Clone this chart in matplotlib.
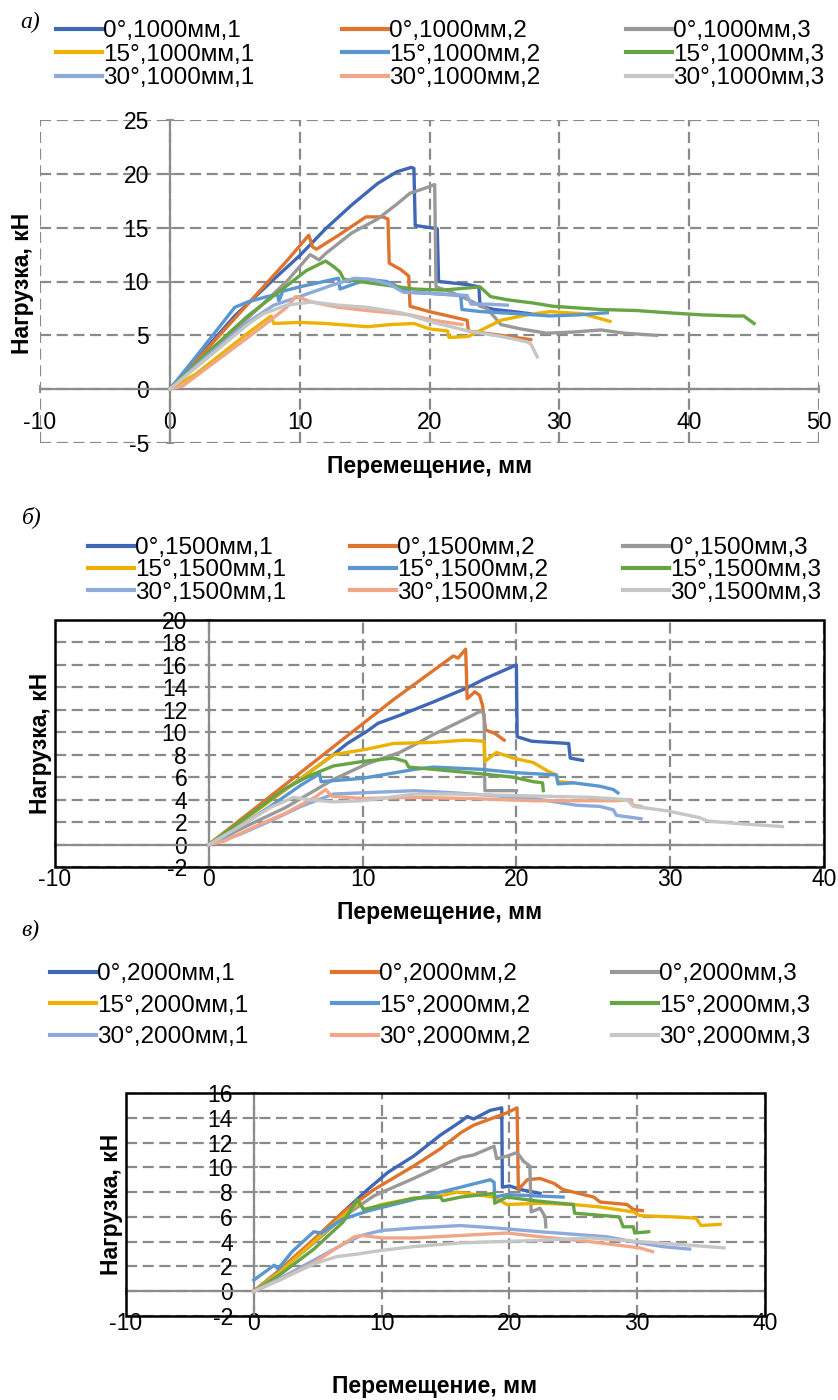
import numpy as np
import matplotlib

matplotlib.use('Agg')
import matplotlib.pyplot as plt
from matplotlib.patches import Rectangle

plt.rcParams['font.family'] = ['Liberation Sans', 'DejaVu Sans']
plt.rcParams['axes.unicode_minus'] = False

W, H = 838, 1400

angles = ['0°', '15°', '30°']
colors = ['#3f67b6', '#df742e', '#999999',
          '#edb200', '#5a97d0', '#67a443',
          '#8eaadb', '#f2a688', '#c6c6c6']

# ---- a) 1000 mm ----
a_0_1_x = [0, 2, 5, 8, 10, 12, 14, 16, 17.5, 18.6, 18.8, 18.9, 19.5, 20.6, 20.7, 21.5, 23.0, 23.8, 23.9, 25.0, 26.5, 27.8]
a_0_1_y = [0, 2.7, 6.8, 10.2, 12.4, 14.9, 17.1, 19.1, 20.2, 20.6, 20.5, 15.2, 15.1, 14.9, 10.0, 9.9, 9.7, 9.5, 7.7, 7.4, 7.2, 7.0]
a_0_2_x = [0, 3, 6, 9, 10.7, 11.0, 11.3, 13, 15.1, 16.4, 16.8, 16.9, 17.8, 18.4, 18.5, 20, 22.9, 23.0, 25.5, 27.8]
a_0_2_y = [0, 3.9, 7.9, 11.9, 14.3, 13.2, 13.0, 14.3, 16.0, 16.0, 15.8, 11.7, 11.1, 10.5, 7.7, 7.2, 6.4, 5.4, 5.0, 4.6]
a_0_3_x = [0, 3, 6, 9, 10.8, 11.5, 12, 14, 16, 17.5, 18.5, 19.5, 20.4, 20.5, 21.5, 23, 24.5, 25.5, 27, 29, 31, 33.2, 35, 37.5]
a_0_3_y = [0, 3.3, 6.6, 10.0, 12.5, 12.0, 12.6, 14.5, 15.8, 17.2, 18.2, 18.6, 19.0, 9.5, 9.1, 8.3, 7.4, 6.0, 5.6, 5.2, 5.3, 5.5, 5.2, 5.0]
a_15_1_x = [0, 2, 4, 6, 7.8, 8.0, 10, 12, 15.2, 17, 18.8, 20, 21.4, 21.5, 23.0, 24.5, 25.5, 27.5, 29.3, 31.8, 33.9]
a_15_1_y = [0, 1.4, 3.3, 5.2, 6.8, 6.1, 6.2, 6.1, 5.8, 6.0, 6.1, 5.6, 5.4, 4.8, 4.9, 5.8, 6.4, 6.9, 7.2, 7.0, 6.3]
a_15_2_x = [0, 2, 5, 6, 7.5, 8.3, 8.4, 8.7, 10, 12.6, 13.0, 13.1, 15.2, 16.7, 18.5, 20, 22.4, 22.5, 24, 26.9, 29.3, 31.5, 33.7]
a_15_2_y = [0, 3.0, 7.6, 8.1, 8.6, 8.8, 8.2, 9.1, 9.5, 10.2, 10.3, 9.3, 10.2, 10.0, 9.0, 8.9, 8.7, 7.4, 7.2, 7.0, 6.8, 6.9, 7.1]
a_15_3_x = [0, 3, 6, 9, 10.5, 11.5, 12.0, 12.6, 13.1, 13.4, 15.2, 17, 18.8, 21, 23.9, 24.7, 26, 28.0, 29.5, 33.2, 36, 38.3, 41, 43.4, 44.2, 45.0]
a_15_3_y = [0, 3.5, 6.8, 9.6, 11.0, 11.6, 11.9, 11.4, 10.9, 10.2, 9.9, 9.6, 9.3, 9.2, 9.5, 8.6, 8.3, 8.0, 7.7, 7.4, 7.3, 7.1, 6.9, 6.8, 6.8, 6.1]
a_30_1_x = [0, 3, 6, 8, 10, 12.6, 14.2, 15.5, 17, 18, 20, 22.9, 23.2, 24.5, 26.0]
a_30_1_y = [0, 3.2, 6.2, 7.8, 8.6, 9.7, 10.3, 10.2, 9.7, 9.0, 8.9, 8.7, 7.9, 7.9, 7.8]
a_30_2_x = [0, 1, 3, 5, 7, 9, 9.7, 10.0, 10.9, 13, 15.2, 17, 18.5, 20.3, 22.5]
a_30_2_y = [0, 0.3, 2.1, 3.9, 5.7, 7.6, 8.6, 8.5, 8.1, 7.6, 7.3, 7.1, 6.9, 6.4, 6.0]
a_30_3_x = [0, 2, 4, 6, 7.2, 9, 10.9, 13, 15.2, 17.8, 20.3, 23, 25.5, 27.5, 27.8, 28.3]
a_30_3_y = [0, 2.0, 4.0, 6.0, 7.0, 7.8, 8.1, 7.8, 7.6, 7.1, 6.2, 5.4, 4.9, 4.4, 4.2, 3.0]

# ---- b) 1500 mm ----
b_0_1_x = [0, 3, 6, 8, 9, 10.3, 11, 12.4, 14.6, 16.7, 18, 20.0, 20.05, 21, 23.4, 23.5, 24.3]
b_0_1_y = [0, 3.0, 5.9, 7.9, 9.0, 10.1, 10.8, 11.5, 12.7, 13.9, 14.8, 16.0, 9.6, 9.2, 9.0, 7.7, 7.5]
b_0_2_x = [0, 4, 8, 12, 15, 15.9, 16.2, 16.7, 16.8, 17.3, 17.6, 17.8, 18.0, 18.6, 19.2]
b_0_2_y = [0, 4.3, 8.6, 12.9, 15.9, 16.8, 16.6, 17.4, 13.0, 13.6, 13.3, 12.4, 10.2, 9.9, 9.3]
b_0_3_x = [0, 3, 5, 8.1, 10.3, 12.4, 13.4, 14.6, 16.7, 17.7, 17.9, 17.95, 19, 20.0]
b_0_3_y = [0, 2.0, 3.3, 5.8, 7.2, 8.2, 8.9, 9.8, 11.2, 11.9, 11.6, 4.8, 4.8, 4.8]
b_15_1_x = [0, 3, 6, 8.1, 10.3, 12.0, 14.6, 16.7, 17.9, 17.95, 18.7, 19.8, 21.1, 22.1, 22.6, 22.7, 23.7]
b_15_1_y = [0, 2.9, 5.9, 8.0, 8.5, 9.0, 9.1, 9.3, 9.2, 7.4, 8.2, 7.7, 7.3, 6.5, 6.2, 5.6, 5.5]
b_15_2_x = [0, 2, 4, 6, 7.2, 7.3, 10, 13.4, 14.6, 17.7, 20.0, 22.6, 22.7, 23.7, 25.4, 26.3, 26.6]
b_15_2_y = [0, 1.6, 3.4, 5.3, 6.3, 5.6, 5.9, 6.7, 6.9, 6.7, 6.4, 6.2, 5.4, 5.5, 5.2, 4.9, 4.6]
b_15_3_x = [0, 3, 5, 6.5, 8.1, 10, 12.0, 12.8, 13.0, 14.6, 17.7, 19.8, 21.1, 21.7, 21.75]
b_15_3_y = [0, 3.0, 5.0, 6.1, 7.0, 7.4, 7.7, 7.4, 6.9, 6.7, 6.3, 6.0, 5.6, 5.5, 4.8]
b_30_1_x = [0, 2, 4, 6, 8.1, 13.4, 16, 21.1, 23.9, 25.4, 26.3, 26.5, 28.1]
b_30_1_y = [0, 0.9, 2.1, 3.4, 4.5, 4.8, 4.6, 4.1, 3.5, 3.4, 3.1, 2.6, 2.3]
b_30_2_x = [0, 1, 3, 5, 7.0, 7.6, 8.0, 10, 13.4, 17, 21.1, 24, 26.5, 27.4, 27.6, 28.1]
b_30_2_y = [0, 0.3, 1.6, 2.8, 4.3, 4.9, 4.3, 4.1, 4.2, 4.1, 3.9, 3.9, 3.9, 4.0, 3.5, 3.4]
b_30_3_x = [0, 2, 4, 5.5, 6.5, 8.1, 10, 13.4, 16, 18.8, 22, 25, 27.2, 27.6, 29.8, 31.9, 32.4, 34.1, 37.3]
b_30_3_y = [0, 1.6, 3.3, 4.2, 4.0, 3.8, 3.9, 4.5, 4.5, 4.4, 4.3, 4.2, 4.0, 3.4, 3.0, 2.4, 2.1, 1.9, 1.6]

# ---- c) 2000 mm ----
c_0_1_x = [0, 2, 4.7, 7, 8.9, 10.5, 12.5, 14.6, 16.2, 16.7, 17.2, 18.5, 19.4, 19.45, 20.0, 20.9, 22.4]
c_0_1_y = [0, 1.6, 4.1, 6.4, 8.2, 9.6, 10.9, 12.6, 13.7, 14.1, 13.9, 14.6, 14.8, 8.4, 8.5, 8.2, 7.9]
c_0_2_x = [0, 2, 4.7, 7, 9.4, 12.5, 14.6, 16.2, 17.2, 19.8, 20.6, 20.7, 21.4, 22.4, 23.5, 24.2, 25.0, 26.6, 27.1, 29.2, 29.7, 30.4]
c_0_2_y = [0, 1.7, 4.2, 6.4, 8.2, 10.1, 11.5, 12.8, 13.4, 14.4, 14.8, 8.2, 9.0, 9.1, 8.7, 8.2, 8.0, 7.6, 7.2, 7.0, 6.6, 6.5]
c_0_3_x = [0, 2, 4.7, 7, 9.4, 12.5, 14.6, 16.2, 17.2, 18.8, 19.0, 19.8, 20.6, 21.1, 21.6, 21.7, 22.4, 22.8, 22.85]
c_0_3_y = [0, 1.6, 3.9, 6.0, 7.7, 9.1, 10.1, 10.8, 11.0, 11.7, 10.7, 10.9, 11.2, 10.5, 10.1, 6.4, 6.7, 6.0, 5.2]
c_15_1_x = [0, 2, 4.7, 7, 8.3, 8.6, 10, 12.5, 14.6, 15.9, 18.8, 19.8, 22.4, 25.0, 27.1, 29.7, 30.2, 32.8, 34.6, 35.0, 36.5]
c_15_1_y = [0, 1.5, 4.0, 6.1, 7.2, 6.5, 7.0, 7.5, 7.7, 8.0, 7.6, 7.0, 7.1, 7.0, 6.8, 6.4, 6.1, 6.0, 5.9, 5.3, 5.4]
c_15_2_x = [0, 1.6, 1.9, 3, 4.7, 5.3, 6.9, 9, 12.5, 14.6, 16.2, 18.5, 18.8, 18.85, 19.8, 22, 24.2]
c_15_2_y = [0.9, 2.1, 1.8, 3.2, 4.8, 4.7, 5.8, 6.5, 7.4, 8.0, 8.4, 9.0, 8.8, 7.6, 7.8, 7.7, 7.6]
c_15_3_x = [0, 2, 4.7, 7, 8.1, 8.6, 9.9, 12.5, 14.6, 14.8, 16.2, 18.8, 18.85, 19.8, 22, 25.0, 25.1, 28.6, 28.9, 29.7, 29.8, 30.9]
c_15_3_y = [0, 1.3, 3.4, 5.6, 7.4, 6.6, 6.9, 7.5, 7.6, 7.3, 7.6, 7.9, 7.1, 7.6, 7.3, 7.0, 6.3, 6.0, 5.2, 5.2, 4.7, 4.8]
c_30_1_x = [0, 2, 4.7, 7, 8.4, 10, 12.5, 16.2, 19, 22.4, 25, 27.6, 30.2, 32, 34.1]
c_30_1_y = [0, 1.0, 2.5, 3.8, 4.5, 4.9, 5.1, 5.3, 5.1, 4.8, 4.6, 4.4, 3.9, 3.6, 3.4]
c_30_2_x = [0, 2, 4.7, 6.5, 7.9, 8.5, 10, 12.5, 16.2, 19.8, 22.4, 26.3, 30.2, 31.2]
c_30_2_y = [0, 0.9, 2.3, 3.5, 4.4, 4.5, 4.3, 4.3, 4.5, 4.7, 4.4, 4.0, 3.5, 3.2]
c_30_3_x = [0, 2, 4.7, 6.5, 8.1, 10, 12.5, 16.2, 19, 22.4, 26.3, 30.2, 33, 36.8]
c_30_3_y = [0, 0.9, 2.2, 2.8, 3.0, 3.3, 3.6, 3.9, 4.0, 4.1, 4.3, 4.0, 3.8, 3.5]

series_a = [(a_0_1_x, a_0_1_y), (a_0_2_x, a_0_2_y), (a_0_3_x, a_0_3_y),
            (a_15_1_x, a_15_1_y), (a_15_2_x, a_15_2_y), (a_15_3_x, a_15_3_y),
            (a_30_1_x, a_30_1_y), (a_30_2_x, a_30_2_y), (a_30_3_x, a_30_3_y)]
series_b = [(b_0_1_x, b_0_1_y), (b_0_2_x, b_0_2_y), (b_0_3_x, b_0_3_y),
            (b_15_1_x, b_15_1_y), (b_15_2_x, b_15_2_y), (b_15_3_x, b_15_3_y),
            (b_30_1_x, b_30_1_y), (b_30_2_x, b_30_2_y), (b_30_3_x, b_30_3_y)]
series_c = [(c_0_1_x, c_0_1_y), (c_0_2_x, c_0_2_y), (c_0_3_x, c_0_3_y),
            (c_15_1_x, c_15_1_y), (c_15_2_x, c_15_2_y), (c_15_3_x, c_15_3_y),
            (c_30_1_x, c_30_1_y), (c_30_2_x, c_30_2_y), (c_30_3_x, c_30_3_y)]

axis_gray = '#8c8c8c'
grid_gray = '#8a8a8a'


def box(left, top, right, bottom):
    return [left / W, 1 - bottom / H, (right - left) / W, (bottom - top) / H]


def panel(rect, series, length, xlim, ylim, ystep, framed, tick_fs, xpad, ypad,
          leg_top, leg_cols, leg_space):
    ax = fig.add_axes(box(*rect))
    lines = []
    for i, (x, y) in enumerate(series):
        ln, = ax.plot(x, y, color=colors[i], lw=2.4, zorder=3,
                      label='%s,%dмм,%d' % (angles[i // 3], length, i % 3 + 1))
        lines.append(ln)
    ax.set_xlim(xlim)
    ax.set_ylim(ylim)
    ax.set_xticks(np.arange(xlim[0], xlim[1] + 1, 10))
    ax.set_yticks(np.arange(ylim[0], ylim[1] + 1, ystep))
    ax.grid(True, color=grid_gray, lw=1.6, linestyle=(0, (5, 2.5)))
    for s in ['top', 'right']:
        ax.spines[s].set_visible(False)
    for s in ['left', 'bottom']:
        ax.spines[s].set_position(('data', 0))
        ax.spines[s].set_color(axis_gray)
        ax.spines[s].set_linewidth(1.6)
    ax.tick_params(direction='inout', length=6, width=1.3, color=axis_gray,
                   labelsize=tick_fs)
    ax.tick_params(axis='x', pad=xpad)
    ax.tick_params(axis='y', pad=ypad)
    if framed:
        ax.add_patch(Rectangle((0, 0), 1, 1, transform=ax.transAxes, fill=False,
                               ec='black', lw=1.8, clip_on=False, zorder=5))
    # legend: one column per replicate, rows = angles
    for r in range(3):
        leg = fig.legend(handles=[lines[a * 3 + r] for a in range(3)],
                         loc='upper left',
                         bbox_to_anchor=(leg_cols[r] / W, 1 - leg_top / H),
                         frameon=False, fontsize=17.5, handlelength=1.9,
                         handletextpad=0.05, labelspacing=leg_space,
                         borderpad=0, borderaxespad=0)
        for ln in leg.get_lines():
            ln.set_linewidth(3)
    return ax


fig = plt.figure(figsize=(W / 100, H / 100), dpi=100)

panel((40, 120, 819, 443), series_a, 1000, (-10, 50), (-5, 25), 5, False,
      16.5, 12.5, 12, 20, (56, 342, 626), 0.07)
panel((55, 620, 824, 867), series_b, 1500, (-10, 40), (-2, 20), 2, True,
      16.5, 14, 12.6, 537, (88, 350, 623), 0.01)
panel((126, 1093, 765, 1316), series_c, 2000, (-10, 40), (-2, 16), 2, True,
      16.5, 12, 12, 963, (50, 332, 612), 0.4)

lab = dict(fontsize=16.5, fontweight='bold', ha='center', va='center')
fig.text(430 / W, 1 - 466 / H, 'Перемещение, мм', **lab)
fig.text(22 / W, 1 - 283 / H, 'Нагрузка, кН', rotation=90, **lab)
fig.text(440 / W, 1 - 912 / H, 'Перемещение, мм', **lab)
fig.text(40 / W, 1 - 743 / H, 'Нагрузка, кН', rotation=90, **lab)
fig.text(435 / W, 1 - 1386 / H, 'Перемещение, мм', **lab)
fig.text(111 / W, 1 - 1204 / H, 'Нагрузка, кН', rotation=90, **lab)

tag = dict(fontsize=17, family='Liberation Serif', style='italic', ha='center', va='center')
fig.text(30 / W, 1 - 22 / H, 'а)', **tag)
fig.text(32 / W, 1 - 517 / H, 'б)', **tag)
fig.text(30 / W, 1 - 930 / H, 'в)', **tag)

fig.savefig('out.png', dpi=100)
